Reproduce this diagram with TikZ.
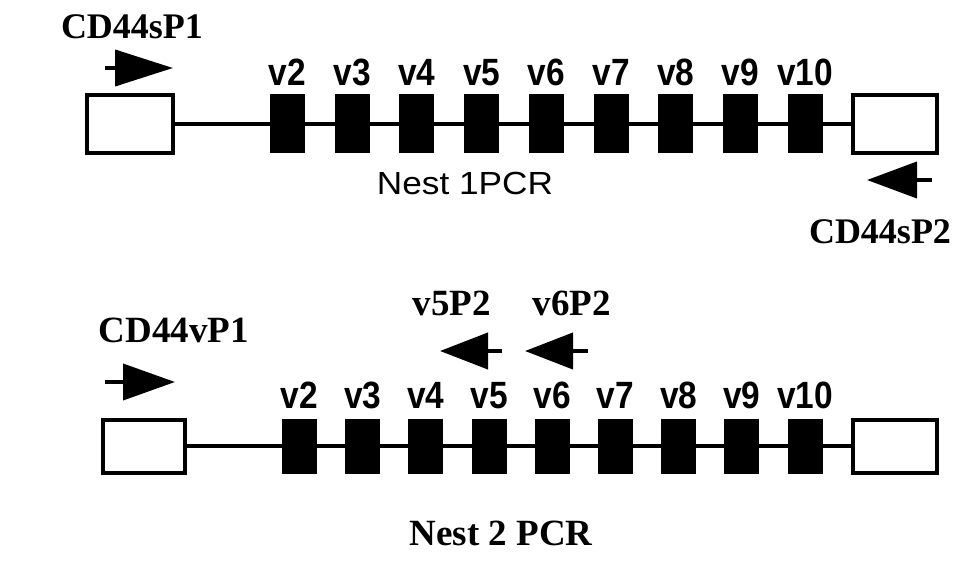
\documentclass[tikz,border=0pt]{standalone}
\usepackage{fontspec}
\setmainfont{Liberation Serif}
\setsansfont{Liberation Sans}
\usetikzlibrary{arrows.meta}
\tikzset{
  openbox/.style={draw, line width=4pt, fill=white, inner sep=0pt},
  exon/.style={fill=black, inner sep=0pt, minimum width=35pt},
  vlab/.style={font=\sffamily\bfseries\fontsize{38}{40}\selectfont, inner sep=0pt, xscale=0.88},
  plab/.style={font=\rmfamily\bfseries\fontsize{37}{40}\selectfont, inner sep=0pt},
  primer/.style={line width=4pt, -{Triangle[length=#1,width=36pt]}},
  primer/.default=52pt,
  gene/.style={line width=4pt}
}
\begin{document}
\begin{tikzpicture}[x=1pt,y=-1pt]
\useasboundingbox (0,0) rectangle (969,561);
% ---- top gene (Nest 1) ----
\node[openbox, minimum width=86pt, minimum height=58pt] (tL) at (130,124) {};
\node[openbox, minimum width=84pt, minimum height=58pt] (tR) at (895,124) {};
\draw[gene] (tL.east) -- (tR.west);
\foreach \i in {2,...,10}{
  \node[exon, minimum height=59pt] (t\i) at ({287.5+64.7*(\i-2)},124) {};
  \node[vlab, anchor=base] (tl\i) at ([yshift=9pt]t\i.north) {v\i};
}
\node[font=\sffamily\fontsize{32}{36}\selectfont, inner sep=0pt, xscale=1.1] (n1) at (465,183) {Nest 1PCR};
\node[plab, font=\rmfamily\bfseries\fontsize{36}{40}\selectfont] (p1) at (132,27) {CD44sP1};
\coordinate (p1a) at (105,68); \coordinate (p1b) at (173,68);
\draw[primer=58pt] (p1a) -- (p1b);
\coordinate (p2a) at (932,180); \coordinate (p2b) at (867,180);
\draw[primer=50pt] (p2a) -- (p2b);
\node[plab, font=\rmfamily\bfseries\fontsize{36}{40}\selectfont] (p2) at (880,232) {CD44sP2};
% ---- bottom gene (Nest 2) ----
\node[openbox, minimum width=82pt, minimum height=53pt] (bL) at (144,446) {};
\node[openbox, minimum width=84pt, minimum height=53pt] (bR) at (895,446) {};
\draw[gene] (bL.east) -- (bR.west);
\foreach \i in {2,...,10}{
  \node[exon, minimum height=55pt] (b\i) at ({299.5+63.2*(\i-2)},446) {};
  \node[vlab, anchor=base] (bl\i) at ([yshift=10pt]b\i.north) {v\i};
}
\node[plab] (p3) at (174,330) {CD44vP1};
\coordinate (p3a) at (105,382); \coordinate (p3b) at (175,382);
\draw[primer=52pt] (p3a) -- (p3b);
\node[plab] (p4) at (452,303) {v5P2};
\coordinate (p4a) at (502,351); \coordinate (p4b) at (440,351);
\draw[primer=48pt] (p4a) -- (p4b);
\node[plab] (p5) at (572,303) {v6P2};
\coordinate (p5a) at (588,351); \coordinate (p5b) at (525,351);
\draw[primer=48pt] (p5a) -- (p5b);
\node[plab] (n2) at (501,533) {Nest 2 PCR};
\end{tikzpicture}
\end{document}
